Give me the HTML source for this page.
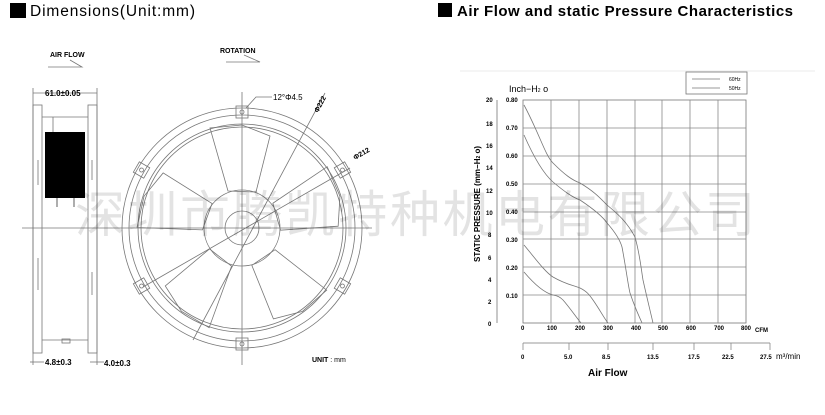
<!DOCTYPE html>
<html><head><meta charset="utf-8"><style>
html,body{margin:0;padding:0;background:#fff}
svg{display:block}
text{font-family:"Liberation Sans",Arial,sans-serif}
</style></head><body>
<svg width="825" height="415" viewBox="0 0 825 415" xmlns="http://www.w3.org/2000/svg">
<rect x="10" y="3" width="16" height="15" fill="#000"/>
<text x="30" y="16" font-size="15.5" fill="#000" textLength="165">Dimensions(Unit:mm)</text>
<rect x="438" y="3" width="14" height="14" fill="#000"/>
<text x="457" y="16" font-size="15" font-weight="bold" fill="#000" textLength="336">Air Flow and static Pressure Characteristics</text>

<rect x="45" y="132" width="40" height="66" fill="#000"/>

<g stroke="#777" stroke-width="0.8" fill="none">
<polyline points="48,67 82,67 70,60"/>
<polyline points="226,62 260,62 244,55"/>
<line x1="33" y1="88" x2="33" y2="365"/><line x1="97" y1="88" x2="97" y2="365"/>
<line x1="33" y1="93" x2="97" y2="93"/>
<rect x="33" y="105" width="9" height="248"/>
<rect x="88" y="105" width="9" height="248"/>
<line x1="42" y1="117" x2="88" y2="117"/><line x1="42" y1="340" x2="88" y2="340"/>
<line x1="53" y1="117" x2="53" y2="132"/>
<line x1="38" y1="160" x2="38" y2="185"/><line x1="92" y1="160" x2="92" y2="180"/>
<line x1="38" y1="258" x2="38" y2="290"/><line x1="92" y1="272" x2="92" y2="295"/>
<line x1="57" y1="198" x2="57" y2="207" stroke="#333"/><line x1="74" y1="198" x2="74" y2="207" stroke="#333"/>
<rect x="62" y="339" width="8" height="4"/>
<line x1="22" y1="228" x2="100" y2="228"/>
<line x1="30" y1="362" x2="44" y2="362"/><line x1="90" y1="362" x2="104" y2="362"/>
<line x1="242" y1="92" x2="242" y2="365"/>
<line x1="100" y1="228" x2="372" y2="228"/>
<circle cx="242" cy="228" r="120"/>
<circle cx="242" cy="228" r="113"/>
<circle cx="242" cy="228" r="104"/>
<circle cx="242" cy="228" r="101"/>
<circle cx="242" cy="228" r="38"/>
<circle cx="242" cy="228" r="17"/>
<g transform="translate(242,228)">
<polygon points="-14,-37 -32,-100 0,-103 28,-92 14,-36" transform="rotate(0)"/>
<polygon points="-14,-37 -32,-100 0,-103 28,-92 14,-36" transform="rotate(72)"/>
<polygon points="-14,-37 -32,-100 0,-103 28,-92 14,-36" transform="rotate(144)"/>
<polygon points="-14,-37 -32,-100 0,-103 28,-92 14,-36" transform="rotate(216)"/>
<polygon points="-14,-37 -32,-100 0,-103 28,-92 14,-36" transform="rotate(288)"/>
<g><rect x="-6" y="-122" width="12" height="12"/><circle cx="0" cy="-116" r="2"/></g>
<g transform="rotate(60)"><rect x="-6" y="-122" width="12" height="12"/><circle cx="0" cy="-116" r="2"/></g>
<g transform="rotate(120)"><rect x="-6" y="-122" width="12" height="12"/><circle cx="0" cy="-116" r="2"/></g>
<g transform="rotate(180)"><rect x="-6" y="-122" width="12" height="12"/><circle cx="0" cy="-116" r="2"/></g>
<g transform="rotate(240)"><rect x="-6" y="-122" width="12" height="12"/><circle cx="0" cy="-116" r="2"/></g>
<g transform="rotate(300)"><rect x="-6" y="-122" width="12" height="12"/><circle cx="0" cy="-116" r="2"/></g>
</g>
<line x1="193" y1="340" x2="325" y2="93"/>
<line x1="143" y1="287" x2="350" y2="168"/>
<polyline points="246,108 256,97 272,97"/>
<line x1="460" y1="71" x2="815" y2="71" stroke="#e4e4e4"/>
<rect x="686" y="72" width="61" height="22"/>
<line x1="692" y1="79" x2="720" y2="79"/><line x1="692" y1="88" x2="720" y2="88"/>
<line x1="497" y1="100" x2="497" y2="323"/>
<rect x="523" y="100" width="223" height="223"/>
<g stroke="#888">
<line x1="551" y1="100" x2="551" y2="323"/><line x1="579" y1="100" x2="579" y2="323"/>
<line x1="607" y1="100" x2="607" y2="323"/><line x1="635" y1="100" x2="635" y2="323"/>
<line x1="662" y1="100" x2="662" y2="323"/><line x1="690" y1="100" x2="690" y2="323"/>
<line x1="718" y1="100" x2="718" y2="323"/>
<line x1="523" y1="128" x2="746" y2="128"/><line x1="523" y1="156" x2="746" y2="156"/>
<line x1="523" y1="184" x2="746" y2="184"/><line x1="523" y1="212" x2="746" y2="212"/>
<line x1="523" y1="239" x2="746" y2="239"/><line x1="523" y1="267" x2="746" y2="267"/>
<line x1="523" y1="295" x2="746" y2="295"/>
</g>
<line x1="523" y1="343" x2="770" y2="343"/>
<g stroke="#888"><line x1="523" y1="343" x2="523" y2="350"/><line x1="569" y1="343" x2="569" y2="350"/><line x1="608" y1="343" x2="608" y2="350"/><line x1="653" y1="343" x2="653" y2="350"/><line x1="694" y1="343" x2="694" y2="350"/><line x1="731" y1="343" x2="731" y2="350"/><line x1="770" y1="343" x2="770" y2="350"/></g>
<path d="M524,105 C540,135 545,155 553,163 C565,175 572,180 580,183 C595,192 600,198 607,205 C618,214 627,222 635,237 C640,255 641,268 643,280 C647,298 650,310 653,323"/>
<path d="M524,135 C535,160 545,175 553,182 C565,192 572,197 580,200 C595,210 603,217 607,223 C615,232 620,240 622,247 C626,268 628,285 630,293 C635,308 639,316 642,323"/>
<path d="M524,245 C535,258 545,272 553,277 C565,284 572,285 580,288 C588,292 590,296 593,300 C600,310 604,318 608,323"/>
<path d="M524,272 C535,285 545,293 553,295 C558,296 560,297 563,300 C570,308 576,317 581,323"/>
</g>
<g fill="#000" font-weight="bold" font-size="6">
<text x="50" y="57" font-size="7">AIR FLOW</text>
<text x="220" y="53" font-size="7">ROTATION</text>
<text x="45" y="96" font-size="8">61.0±0.05</text>
<text x="45" y="365" font-size="8">4.8±0.3</text>
<text x="104" y="366" font-size="8">4.0±0.3</text>
<text x="273" y="100" font-size="8" font-weight="normal">12°Φ4.5</text>
<text x="318" y="113" font-size="7" transform="rotate(-62 318 113)">Φ222</text>
<text x="355" y="160" font-size="7" transform="rotate(-30 355 160)">Φ212</text>
<text x="312" y="362" font-size="7">UNIT<tspan font-weight="normal"> : mm</tspan></text>
<text x="509" y="92" font-size="9" font-weight="normal">Inch−H<tspan font-size="5">2</tspan> o</text>
<text x="729" y="81" font-size="5" font-weight="normal">60Hz</text>
<text x="729" y="90" font-size="5" font-weight="normal">50Hz</text>
<text x="486" y="102">20</text><text x="486" y="126">18</text><text x="486" y="148">16</text><text x="486" y="170">14</text><text x="486" y="193">12</text><text x="486" y="215">10</text><text x="488" y="237">8</text><text x="488" y="260">6</text><text x="488" y="282">4</text><text x="488" y="304">2</text><text x="488" y="326">0</text>
<text x="506" y="102">0.80</text><text x="506" y="130">0.70</text><text x="506" y="158">0.60</text><text x="506" y="186">0.50</text><text x="506" y="214">0.40</text><text x="506" y="242">0.30</text><text x="506" y="270">0.20</text><text x="506" y="298">0.10</text>
<text x="521" y="330">0</text><text x="547" y="330">100</text><text x="575" y="330">200</text><text x="603" y="330">300</text><text x="631" y="330">400</text><text x="658" y="330">500</text><text x="686" y="330">600</text><text x="714" y="330">700</text><text x="741" y="330">800</text><text x="755" y="332">CFM</text>
<text x="521" y="359">0</text><text x="564" y="359">5.0</text><text x="602" y="359">8.5</text><text x="647" y="359">13.5</text><text x="688" y="359">17.5</text><text x="722" y="359">22.5</text><text x="760" y="359">27.5</text>
<text x="776" y="359" font-size="8" font-weight="normal">m³/min</text>
<text x="588" y="376" font-size="10">Air Flow</text>
<text x="480" y="262" font-size="8" transform="rotate(-90 480 262)">STATIC PRESSURE (mm−H<tspan font-size="5">2</tspan> o)</text>
</g>
<text x="75" y="232" font-size="50" fill="#000" fill-opacity="0.11" font-family="'Liberation Sans','Noto Sans CJK SC',sans-serif" textLength="680">深圳市腾凯特种机电有限公司</text>
</svg>
</body></html>
